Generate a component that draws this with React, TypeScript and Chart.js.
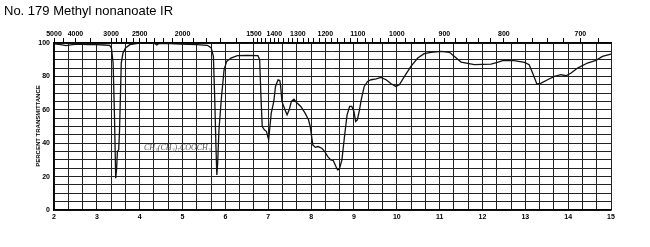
import { useEffect, useRef } from 'react';
import { Chart, registerables } from 'chart.js';
Chart.register(...registerables);

const wavelengths = [
  2.0, 2.16, 2.28, 2.43, 2.59, 2.79, 2.98, 3.18, 3.3, 3.34, 3.38, 3.41, 3.44, 3.46, 3.48, 3.51, 3.53, 3.57, 3.61, 3.67,
  3.77, 4.0, 4.24, 4.36, 4.4, 4.44, 4.71, 4.95, 5.34, 5.58, 5.67, 5.72, 5.75, 5.78, 5.8, 5.82, 5.85, 5.91, 5.97, 6.03,
  6.13, 6.28, 6.52, 6.76, 6.8, 6.83, 6.86, 6.91, 6.96, 7.01, 7.04, 7.07, 7.13, 7.17, 7.23, 7.27, 7.29, 7.32, 7.39, 7.44,
  7.49, 7.54, 7.6, 7.66, 7.76, 7.86, 7.94, 7.98, 8.04, 8.1, 8.16, 8.25, 8.32, 8.39, 8.46, 8.52, 8.58, 8.62, 8.66, 8.72,
  8.78, 8.84, 8.9, 8.95, 9.0, 9.04, 9.08, 9.13, 9.17, 9.24, 9.32, 9.4, 9.52, 9.63, 9.75, 9.87, 9.98, 10.06, 10.18, 10.33,
  10.49, 10.64, 10.8, 11.03, 11.23, 11.34, 11.5, 11.81, 12.2, 12.35, 12.47, 12.74, 12.98, 13.09, 13.17, 13.27, 13.37, 13.52, 13.68, 13.83,
  13.95, 14.07, 14.22, 14.45, 14.65, 14.8, 15.0,
];
const transmittance = [
  99.5, 99, 98.4, 99, 99.4, 99, 99, 98.8, 98.6, 97, 88, 58, 19, 24, 35, 36, 48, 88, 94, 97,
  99, 100, 100, 99.6, 98.8, 99.6, 99.6, 99.4, 99, 98.6, 97, 92, 68, 38, 21, 28, 48, 68, 84, 89,
  91, 92.4, 92.6, 92.4, 90, 68, 50, 48, 47, 42, 50, 58, 65, 74, 78, 77.6, 74, 65, 60, 57,
  60, 65, 66.4, 64.4, 62, 58, 54, 50, 39, 37.5, 38, 37, 35, 32, 30, 29.5, 26, 24, 24.5, 30,
  44, 57, 62, 62, 59, 53, 54, 60, 66, 74, 77, 78, 78.5, 79.4, 78, 75.6, 74, 75, 80, 86,
  91, 93.6, 94.4, 95, 94.4, 92, 88.6, 87, 87.4, 88.4, 89.4, 89.4, 88.4, 87, 82, 75.4, 76, 78, 80, 81,
  80.4, 82, 85, 88, 89.6, 92, 93.4,
];

const titleText = 'No. 179 Methyl nonanoate IR';
const yAxisLabel = 'PERCENT TRANSMITTANCE';
const noteText = 'CH₃(CH₂)₇COOCH₃';
const wavenumberLabels = [5000, 4000, 3000, 2500, 2000, 1500, 1400, 1300, 1200, 1100, 1000, 900, 800, 700];
const yLabelValues = [0, 20, 40, 60, 80, 100];

function wavenumberTicks(): number[] {
  const list: number[] = [];
  for (let w = 5000; w > 3000; w -= 500) list.push(w);
  for (let w = 3000; w > 2000; w -= 100) list.push(w);
  for (let w = 2000; w > 1500; w -= 100) list.push(w);
  for (let w = 1500; w >= 680; w -= 20) list.push(w);
  return list;
}

export default function App() {
  const ref = useRef<HTMLCanvasElement>(null);
  useEffect(() => {
    const canvas = ref.current;
    if (!canvas) return;
    const points = wavelengths.map((x, i) => ({ x, y: transmittance[i] }));
    const tickFont = { family: '"Liberation Sans", Arial, sans-serif', size: 7, weight: 'bold' as const };
    const textPlugin = {
      id: 'texts',
      afterDraw(chart: any) {
        const ctx = chart.ctx;
        ctx.save();
        ctx.fillStyle = '#000';
        ctx.font = '13px "Liberation Sans", Arial, sans-serif';
        ctx.textAlign = 'left';
        ctx.textBaseline = 'alphabetic';
        ctx.fillText(titleText, 4, 15);
        ctx.translate(38, 126);
        ctx.rotate(-Math.PI / 2);
        ctx.font = 'bold 6px "Liberation Sans", Arial, sans-serif';
        ctx.textAlign = 'center';
        ctx.textBaseline = 'middle';
        ctx.fillText(yAxisLabel, 0, 0);
        ctx.restore();
        ctx.save();
        const xs = chart.scales.x;
        const ys = chart.scales.y;
        ctx.font = 'italic 8px "Liberation Serif", serif';
        ctx.fillStyle = '#555';
        ctx.textAlign = 'left';
        ctx.textBaseline = 'middle';
        ctx.fillText(noteText, xs.getPixelForValue(4.1), ys.getPixelForValue(37));
        ctx.restore();
      },
    };
    const chart = new Chart(canvas, {
      type: 'line',
      data: {
        datasets: [
          {
            data: points,
            borderColor: '#111',
            borderWidth: 1.3,
            pointRadius: 0,
            tension: 0,
            fill: false,
          },
        ],
      },
      options: {
        responsive: false,
        animation: false,
        devicePixelRatio: 1,
        layout: { padding: { left: 0, right: 39, top: 0, bottom: 0 } },
        plugins: { legend: { display: false }, tooltip: { enabled: false }, title: { display: false } },
        scales: {
          x: {
            type: 'linear',
            position: 'bottom',
            min: 2,
            max: 15,
            afterBuildTicks(scale: any) {
              const t = [];
              for (let i = 0; i <= 39; i++) t.push({ value: 2 + i / 3 });
              scale.ticks = t;
            },
            afterFit(scale: any) {
              scale.height = 37;
            },
            ticks: {
              autoSkip: false,
              maxRotation: 0,
              padding: 3,
              color: '#000',
              font: tickFont,
              callback: (v: any) => {
                const n = Number(v);
                return Math.abs(n - Math.round(n)) < 1e-6 ? String(Math.round(n)) : '';
              },
            },
            grid: { color: '#222', lineWidth: 1, drawTicks: false },
            border: { display: true, color: '#000', width: 1.5 },
          },
          xTop: {
            type: 'linear',
            position: 'top',
            min: 2,
            max: 15,
            afterBuildTicks(scale: any) {
              scale.ticks = wavenumberTicks().map((w) => ({ value: 10000 / w }));
            },
            afterFit(scale: any) {
              scale.height = 43;
            },
            ticks: {
              autoSkip: false,
              maxRotation: 0,
              padding: 0,
              color: '#000',
              font: tickFont,
              callback: (v: any) => {
                const w = Math.round(10000 / Number(v));
                return wavenumberLabels.includes(w) ? String(w) : '';
              },
            },
            grid: { display: true, drawOnChartArea: false, tickLength: 5, color: '#000', lineWidth: 1 },
            border: { display: true, color: '#000', width: 1.5 },
          },
          y: {
            type: 'linear',
            min: 0,
            max: 100,
            afterBuildTicks(scale: any) {
              const t = [];
              for (let v = 0; v <= 100; v += 5) t.push({ value: v });
              scale.ticks = t;
            },
            afterFit(scale: any) {
              scale.width = 54;
            },
            ticks: {
              autoSkip: false,
              padding: 4,
              color: '#000',
              font: tickFont,
              callback: (v: any) => (yLabelValues.includes(Number(v)) ? String(v) : ''),
            },
            grid: { color: '#222', lineWidth: 1, drawTicks: false },
            border: { display: true, color: '#000', width: 1.5 },
          },
        },
      },
      plugins: [textPlugin],
    } as any);
    return () => chart.destroy();
  }, []);
  return (
    <div style={{ position: 'fixed', left: 0, top: 0, width: 650, height: 247, background: '#fff' }}>
      <canvas ref={ref} width={650} height={247} style={{ display: 'block', width: 650, height: 247 }} />
    </div>
  );
}
